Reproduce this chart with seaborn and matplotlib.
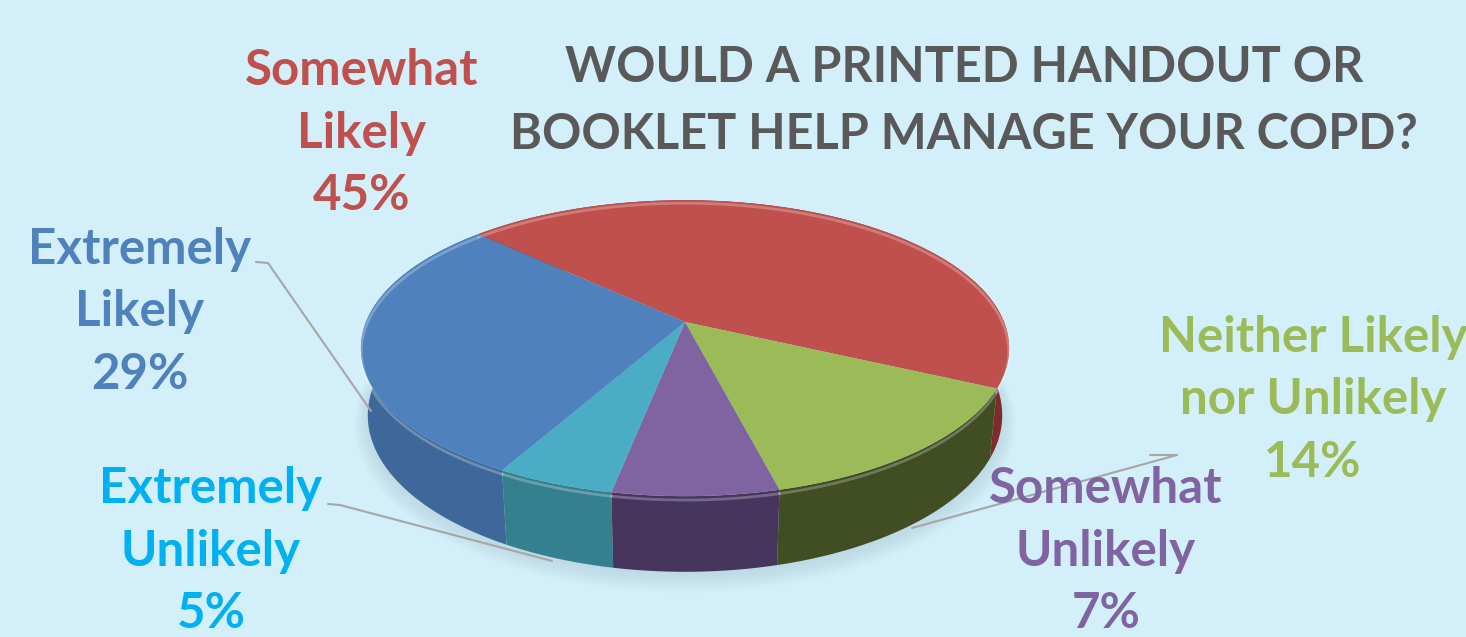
import numpy as np
import matplotlib
matplotlib.use("Agg")
import matplotlib.pyplot as plt
import seaborn as sns

# ---- data (clockwise order starting at the back-left edge) ----
categories = ["Somewhat\nLikely", "Neither Likely\nnor Unlikely", "Somewhat\nUnlikely",
              "Extremely\nUnlikely", "Extremely\nLikely"]
values = [45, 14, 7, 5, 29]
pct_labels = ["45%", "14%", "7%", "5%", "29%"]
title_text = "WOULD A PRINTED HANDOUT OR\nBOOKLET HELP MANAGE YOUR COPD?"

# ---- styles ----
top_colors = ["#c0504d", "#9bbb59", "#8064a2", "#4bacc6", "#4f81bd"]
side_colors = ["#7e2c2a", "#414d22", "#46365e", "#35808f", "#3e6899"]
label_colors = ["#c0504d", "#9bbb59", "#8064a2", "#00b0f0", "#4f81bd"]
label_pos = [(362, 133), (1313, 400), (1106, 551), (211, 551), (140, 312)]
leaders = [None,
           [(1150, 455), (1177, 455), (912, 528)],
           None,
           [(328, 504), (340, 505), (552, 561)],
           [(256, 262), (268, 263), (371, 411)]]
bg = "#d3f0fa"

sns.set_theme(style="white")
plt.rcParams["font.family"] = ["Lato", "DejaVu Sans"]

W, H = 1466, 637
fig = plt.figure(figsize=(W / 100, H / 100), dpi=100, facecolor=bg)
ax = fig.add_axes([0, 0, 1, 1])
ax.set_facecolor(bg)
ax.set_xlim(0, W)
ax.set_ylim(H, 0)
ax.axis("off")

# perspective projection parameters
cx, cy = 685, 322
F, D, elev, h = 1611.0, 5.05, np.deg2rad(26.7), 0.237
s, c = np.sin(elev), np.cos(elev)


def proj(phi, z):
    # z = 0 for top face, z = -h for bottom
    depth = D + np.sin(phi) * c - z * s
    sx = np.cos(phi) / depth
    sy = (np.sin(phi) * s + z * c) / depth
    return cx + F * sx, cy - F * sy


start = np.deg2rad(136.6)
fr = np.array(values, dtype=float) / np.sum(values)
bounds = start - 2 * np.pi * np.concatenate([[0], np.cumsum(fr)])

# soft shadow
for k in range(8):
    phi = np.linspace(0, 2 * np.pi, 300)
    x, y = proj(phi, -h)
    ax.fill(cx + (x - cx) * (1.0 + 0.006 * k), cy + (y - cy) * (1.0 + 0.01 * k) + 3,
            color="#9fb8c4", alpha=0.05, lw=0, zorder=1)

# outer walls, back to front
walls = []
for i in range(len(values)):
    a0, a1 = bounds[i], bounds[i + 1]
    phi = np.linspace(a0, a1, 200)
    mid = np.sin((a0 + a1) / 2)
    walls.append((mid, i, phi))
walls.sort(key=lambda t: -t[0])
for _, i, phi in walls:
    xt, yt = proj(phi, 0)
    xb, yb = proj(phi[::-1], -h)
    ax.fill(np.concatenate([xt, xb]), np.concatenate([yt, yb]),
            color=side_colors[i], lw=0, zorder=2)

# top faces
for i in range(len(values)):
    phi = np.linspace(bounds[i], bounds[i + 1], 200)
    xt, yt = proj(phi, 0)
    ax.fill(np.concatenate([[cx], xt]), np.concatenate([[cy], yt]),
            color=top_colors[i], lw=0, zorder=3)
    # light bevel on rim
    xr, yr = proj(phi, -0.012)
    ax.plot(xr, yr, color="white", alpha=0.25, lw=2, zorder=4)

# title
ax.text(964, 101, title_text, ha="center", va="center", fontsize=35,
        fontweight="bold", color="#595959", linespacing=1.62, zorder=6)

# labels
for i in range(len(values)):
    x, y = label_pos[i]
    ax.text(x, y, categories[i] + "\n" + pct_labels[i], ha="center", va="center",
            fontsize=35.5, fontweight="bold", color=label_colors[i],
            linespacing=1.46, zorder=6)
    if leaders[i] is not None:
        pts = np.array(leaders[i])
        ax.plot(pts[:, 0], pts[:, 1], color="#a6a6a6", lw=1.5, zorder=5)

fig.savefig("out.png", dpi=100, facecolor=bg)
